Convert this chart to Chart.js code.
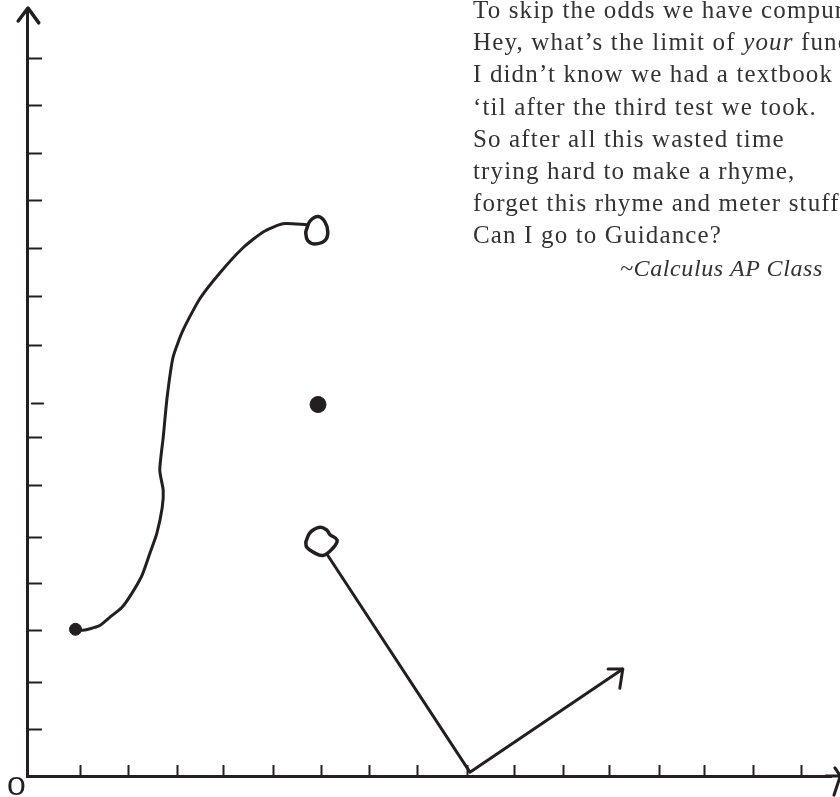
<!DOCTYPE html>
<html>
<head>
<meta charset="utf-8">
<title>Calculus AP Class</title>
<script src="https://cdn.jsdelivr.net/npm/chart.js@4"></script>
<style>
html, body { margin: 0; padding: 0; background: #fff; overflow: hidden; }
#wrap { position: relative; width: 840px; height: 797px; overflow: hidden; }
#verse { position: absolute; left: 473px; top: -6px; white-space: pre; color: #333;
  font: 25px/32.2px "Liberation Serif", serif; letter-spacing: 1.15px; }
#credit { position: absolute; left: 620px; top: 252px; white-space: pre; color: #333;
  font: italic 24px/32px "Liberation Serif", serif; letter-spacing: 0.6px; }
#origin { position: absolute; left: 7px; top: 773px; color: #231f20;
  font: 26px/26px "Liberation Sans", sans-serif; transform: scaleX(1.3); transform-origin: left top; }
</style>
</head>
<body>
<div id="wrap">
  <canvas id="graph" width="840" height="797"></canvas>
  <div id="verse"></div>
  <div id="credit">~Calculus AP Class</div>
  <div id="origin">0</div>
</div>
<script>
// tick positions
var xTicks = [1.1, 2.08, 3.08, 4.02, 5.04, 6.02, 7.0, 7.98, 9.0, 9.96, 10.94, 11.88, 12.9, 13.82, 14.82, 15.8];
var yTicks = [0.96, 1.96, 3.04, 4.02, 4.98, 6.06, 7.06, 8.98, 10, 11, 12, 12.98, 13.98, 14.96];

// left piece of the function
var curveX = [0.99, 1.14, 1.47, 1.69, 1.94, 2.14, 2.35, 2.51, 2.65, 2.76, 2.78, 2.71, 2.78, 2.86, 2.98, 3.18, 3.53, 3.94, 4.41, 4.82, 5.22, 5.71];
var curveY = [3.06, 3.04, 3.13, 3.31, 3.52, 3.81, 4.19, 4.65, 5.06, 5.60, 5.96, 6.38, 7.06, 7.90, 8.73, 9.29, 9.96, 10.5, 11.02, 11.35, 11.52, 11.5];

// right piece, ends in an arrow
var rayX = [6.14, 9.04, 12.16];
var rayY = [4.60, 0.08, 2.23];
var rayHeadX = [11.86, 12.16, 12.1];
var rayHeadY = [2.23, 2.23, 1.83];

// open circles
var openTopX = [5.71, 5.78, 5.94, 6.08, 6.14, 6.08, 5.88, 5.73, 5.69, 5.71];
var openTopY = [11.42, 11.58, 11.67, 11.56, 11.35, 11.17, 11.10, 11.17, 11.33, 11.42];
var openLowX = [5.69, 5.78, 5.98, 6.12, 6.18, 6.33, 6.24, 6.04, 5.84, 5.71, 5.69];
var openLowY = [4.88, 5.08, 5.19, 5.13, 5.04, 4.92, 4.75, 4.60, 4.67, 4.77, 4.88];

// filled points
var dotLeftX = [0.99];
var dotLeftY = [3.06];
var dotMidX = [5.94];
var dotMidY = [7.75];

// axis arrows and the loose tick
var yArrowX = [-0.18, 0.02, 0.24];
var yArrowY = [15.75, 16.02, 15.71];
var xArrowX = [16.49, 16.6, 16.47];
var xArrowY = [0.17, 0, -0.40];
var xAxisEndX = [16.3, 16.6];
var xAxisEndY = [0, 0];
var looseTickX = [0.1, 0.33];
var looseTickY = [7.77, 7.77];

var verseLines = [
    "To skip the odds we have compur",
    "Hey, what\u2019s the limit of <i>your</i> func",
    "I didn\u2019t know we had a textbook",
    "\u2018til after the third test we took.",
    "So after all this wasted time",
    "trying hard to make a rhyme,",
    "forget this rhyme and meter stuff",
    "Can I go to Guidance?"
];

document.getElementById("verse").innerHTML = verseLines.join("\n");

var ink = "#231f20";

function pairs(xs, ys) {
    return xs.map(function (x, i) {
        return { x: x, y: ys[i] };
    });
}

function lineSet(xs, ys, width, tension) {
    return {
        data: pairs(xs, ys),
        showLine: true,
        borderColor: ink,
        borderWidth: width,
        pointRadius: 0,
        tension: tension || 0,
        borderCapStyle: "round",
        borderJoinStyle: "round",
        clip: false
    };
}

function dotSet(xs, ys, radius) {
    return {
        data: pairs(xs, ys),
        showLine: false,
        pointRadius: radius,
        pointBackgroundColor: ink,
        pointBorderColor: ink,
        clip: false
    };
}

new Chart(document.getElementById("graph"), {
    type: "scatter",
    data: {
        datasets: [
            lineSet(curveX, curveY, 3, 0.2),
            lineSet(rayX, rayY, 3),
            lineSet(rayHeadX, rayHeadY, 3),
            lineSet(openTopX, openTopY, 3.5, 0.4),
            lineSet(openLowX, openLowY, 3.5, 0.4),
            dotSet(dotLeftX, dotLeftY, 6),
            dotSet(dotMidX, dotMidY, 8),
            lineSet(yArrowX, yArrowY, 3.5),
            lineSet(xArrowX, xArrowY, 3),
            lineSet(xAxisEndX, xAxisEndY, 3),
            lineSet(looseTickX, looseTickY, 2)
        ]
    },
    options: {
        responsive: false,
        animation: false,
        layout: { padding: { left: 27, top: 8, right: 0, bottom: 21 } },
        plugins: { legend: { display: false }, tooltip: { enabled: false } },
        scales: {
            x: {
                type: "linear",
                bounds: "data",
                min: 0,
                max: 16.41,
                afterBuildTicks: function (scale) {
                    scale.ticks = xTicks.map(function (v) { return { value: v }; });
                },
                afterFit: function (scale) {
                    scale.height = 0;
                },
                ticks: { display: false },
                grid: { drawOnChartArea: false, tickLength: -11, tickWidth: 2, tickColor: ink },
                border: { color: ink, width: 3 }
            },
            y: {
                type: "linear",
                bounds: "data",
                min: 0,
                max: 16,
                afterBuildTicks: function (scale) {
                    scale.ticks = yTicks.map(function (v) { return { value: v }; });
                },
                afterFit: function (scale) {
                    scale.width = 0;
                },
                ticks: { display: false },
                grid: { drawOnChartArea: false, tickLength: -15, tickWidth: 2, tickColor: ink },
                border: { color: ink, width: 3 }
            }
        }
    }
});
</script>
</body>
</html>
